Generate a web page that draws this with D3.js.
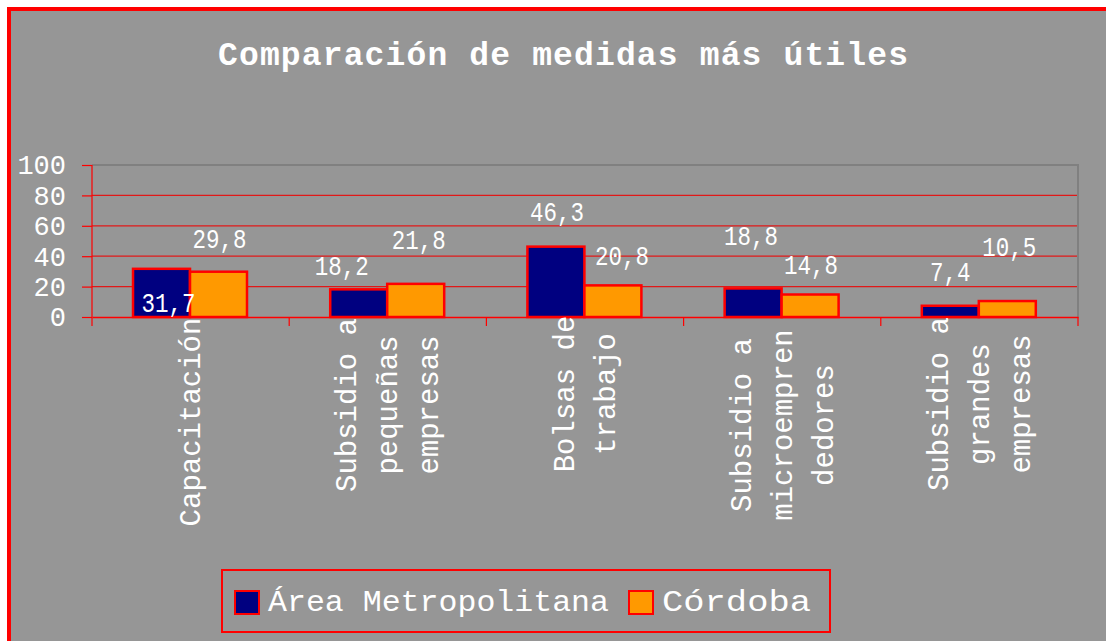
<!DOCTYPE html>
<html>
<head>
<meta charset="utf-8">
<script src="https://cdn.jsdelivr.net/npm/d3@7"></script>
<style>
  html, body { margin: 0; padding: 0; background: #ffffff; }
  svg { display: block; }
  text { font-family: "Liberation Mono", "Courier New", monospace; fill: #ffffff; }
</style>
</head>
<body>
<svg></svg>
<script>
// chart values
const categories = ['Capacitación', 'Subsidio a pequeñas empresas', 'Bolsas de trabajo',
  'Subsidio a microemprendedores', 'Subsidio a grandes empresas'];
const categoryLines = [
  ['Capacitación'],
  ['Subsidio a', 'pequeñas', 'empresas'],
  ['Bolsas de', 'trabajo'],
  ['Subsidio a', 'microempren', 'dedores'],
  ['Subsidio a', 'grandes', 'empresas']
];
const seriesNames = ['Área Metropolitana', 'Córdoba'];
const areaMetro = [31.7, 18.2, 46.3, 18.8, 7.4];
const cordoba = [29.8, 21.8, 20.8, 14.8, 10.5];
const yTicks = [0, 20, 40, 60, 80, 100];

// layout only (label nudges as placed in the original)
const labelShift = [
  [[7, 34], [-17, -23], [1, -35], [-2, -52], [0, -34]],
  [[1, -33], [3, -44], [9, -29], [1, -30], [2, -54]]
];
const catLabelMid = [422, 405, 394, 425, 404];
const colors = ['#000080', '#ff9900'];

const seriesValues = [areaMetro, cordoba];

const svg = d3.select('svg')
  .attr('width', 1106)
  .attr('height', 641);

// outer frame
svg.append('rect')
  .attr('x', 9).attr('y', 9)
  .attr('width', 1200).attr('height', 700)
  .attr('fill', '#969696')
  .attr('stroke', '#ff0000')
  .attr('stroke-width', 4);

// title
svg.append('text')
  .attr('x', 563)
  .attr('y', 65)
  .attr('text-anchor', 'middle')
  .attr('font-size', 33)
  .attr('font-weight', 'bold')
  .attr('textLength', 690)
  .attr('lengthAdjust', 'spacing')
  .text('Comparación de medidas más útiles');

const plotL = 92, plotR = 1078, plotT = 165, plotB = 317;

const scaleX = d3.scaleBand()
  .domain(categories)
  .range([plotL, plotR])
  .padding(0);
const bw = scaleX.bandwidth();

const scaleS = d3.scaleBand()
  .domain(seriesNames)
  .range([bw * 0.208, bw * 0.786])
  .padding(0);

const scaleY = d3.scaleLinear()
  .domain([0, 100])
  .range([plotB, plotT]);

// grid lines
svg.append('g')
  .selectAll('line')
  .data(yTicks.filter(t => t > 0 && t < 100))
  .enter()
  .append('line')
  .attr('x1', plotL).attr('x2', plotR)
  .attr('y1', d => scaleY(d)).attr('y2', d => scaleY(d))
  .attr('stroke', '#e01818')
  .attr('stroke-width', 1.2);

// plot border top / right (gray)
svg.append('path')
  .attr('d', `M${plotL},${scaleY(100)}H${plotR}V${plotB}`)
  .attr('fill', 'none')
  .attr('stroke', '#808080')
  .attr('stroke-width', 2);

// Y axis
const axisY = d3.axisLeft(scaleY)
  .tickValues(yTicks)
  .tickSizeInner(10)
  .tickSizeOuter(0)
  .tickPadding(16)
  .tickFormat(d3.format('d'));

const axisYGroup = svg.append('g')
  .attr('transform', `translate(${plotL}, 0)`)
  .call(axisY);
axisYGroup.select('.domain').remove();
axisYGroup.selectAll('line').attr('stroke', '#ff0000').attr('stroke-width', 1.2);
axisYGroup.selectAll('text')
  .attr('font-size', 27)
  .attr('fill', '#ffffff')
  .attr('font-family', '"Liberation Mono", monospace')
  .attr('dy', '0.33em');

// y axis line
svg.append('line')
  .attr('x1', plotL).attr('x2', plotL)
  .attr('y1', plotT).attr('y2', plotB + 9)
  .attr('stroke', '#ff0000')
  .attr('stroke-width', 1.2);

// X axis baseline and band ticks
const axisX = d3.axisBottom(scaleX)
  .tickSizeOuter(0)
  .tickSize(0)
  .tickFormat('');
const axisXGroup = svg.append('g')
  .attr('transform', `translate(0, ${plotB})`)
  .call(axisX);
axisXGroup.select('.domain').attr('stroke', '#ff0000').attr('stroke-width', 1.5);

svg.append('g')
  .selectAll('line')
  .data(categories)
  .enter()
  .append('line')
  .attr('x1', d => scaleX(d) + bw).attr('x2', d => scaleX(d) + bw)
  .attr('y1', plotB).attr('y2', plotB + 9)
  .attr('stroke', '#ff0000')
  .attr('stroke-width', 1.2);

// bars
const groups = svg.selectAll('g.cat')
  .data(categories)
  .enter()
  .append('g')
  .attr('class', 'cat')
  .attr('transform', d => `translate(${scaleX(d)}, 0)`);

groups.selectAll('rect')
  .data((d, i) => seriesNames.map((s, j) => ({ s, j, i, v: seriesValues[j][i] })))
  .enter()
  .append('rect')
  .attr('x', d => scaleS(d.s))
  .attr('y', d => scaleY(d.v))
  .attr('width', scaleS.bandwidth())
  .attr('height', d => scaleY(0) - scaleY(d.v))
  .attr('fill', d => colors[d.j])
  .attr('stroke', '#ff0000')
  .attr('stroke-width', 2.5);

// data labels
const fmt = v => v.toFixed(1).replace('.', ',');
groups.selectAll('text.val')
  .data((d, i) => seriesNames.map((s, j) => ({ s, j, i, v: seriesValues[j][i] })))
  .enter()
  .append('text')
  .attr('class', 'val')
  .attr('x', d => scaleS(d.s) + scaleS.bandwidth() / 2 + labelShift[d.j][d.i][0])
  .attr('y', d => scaleY(d.v) + labelShift[d.j][d.i][1] + 9)
  .attr('text-anchor', 'middle')
  .attr('font-size', 27)
  .attr('textLength', d => fmt(d.v).length * 13.5)
  .attr('lengthAdjust', 'spacingAndGlyphs')
  .text(d => fmt(d.v));

// category labels (rotated, multiline)
categories.forEach((c, i) => {
  const lines = categoryLines[i];
  const cx = scaleX(c) + bw / 2;
  const g = svg.append('g')
    .attr('transform', `translate(${cx}, ${catLabelMid[i]}) rotate(-90)`);
  g.selectAll('text')
    .data(lines)
    .enter()
    .append('text')
    .attr('x', 0)
    .attr('y', (d, k) => (k - (lines.length - 1) / 2) * 41)
    .attr('dy', '0.33em')
    .attr('text-anchor', 'middle')
    .attr('font-size', 29)
    .text(d => d);
});

// legend
const legend = svg.append('g');
legend.append('rect')
  .attr('x', 222).attr('y', 570)
  .attr('width', 608).attr('height', 62)
  .attr('fill', 'none')
  .attr('stroke', '#ff0000')
  .attr('stroke-width', 2);

const legendTextLen = [341, 149];
let lx = 235;
seriesNames.forEach((s, j) => {
  legend.append('rect')
    .attr('x', lx).attr('y', 591)
    .attr('width', 24).attr('height', 23)
    .attr('fill', colors[j])
    .attr('stroke', '#ff0000')
    .attr('stroke-width', 2);
  legend.append('text')
    .attr('x', lx + 33)
    .attr('y', 611)
    .attr('font-size', 30)
    .attr('textLength', legendTextLen[j])
    .attr('lengthAdjust', 'spacingAndGlyphs')
    .text(s);
  lx += 33 + legendTextLen[j] + 20;
});
</script>
</body>
</html>
